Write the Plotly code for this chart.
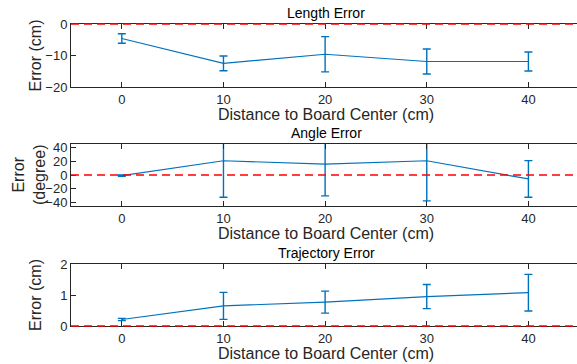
import plotly.graph_objects as go

# Measurement positions (distance to board center, cm)
distance = [0, 10, 20, 30, 40]

# Length error (cm): mean and standard deviation
length_mean = [-4.6, -12.5, -9.6, -11.9, -11.9]
length_std = [1.5, 2.35, 5.6, 3.95, 3.0]

# Angle error (degree)
angle_mean = [-0.8, 20.7, 15.9, 20.7, -5.7]
angle_std = [1.0, 53.0, 46.2, 58.2, 26.5]

# Trajectory error (cm)
traj_mean = [0.21, 0.65, 0.77, 0.95, 1.075]
traj_std = [0.035, 0.435, 0.355, 0.39, 0.59]

panels = [
    ("Length Error", length_mean, length_std, [-20, 0], [-20, -10, 0], ["Error (cm)"]),
    ("Angle Error", angle_mean, angle_std, [-45, 45], [-40, -20, 0, 20, 40], ["Error", "(degree)"]),
    ("Trajectory Error", traj_mean, traj_std, [0, 2], [0, 1, 2], ["Error (cm)"]),
]

W, H = 577, 364
BLUE = "#0072BD"
INK = "#262626"
FONT = "Liberation Sans, Arial, Helvetica, sans-serif"

# pixel extents (top, bottom) of each axes box
boxes = [(24, 87), (144, 206), (264, 326)]
x_left = 71 / W
x_range = [-5, 44.78]

fig = go.Figure()
layout = dict(
    width=W, height=H,
    margin=dict(l=0, r=0, t=0, b=0, autoexpand=False),
    paper_bgcolor="white", plot_bgcolor="white",
    showlegend=False,
    font=dict(family=FONT, color=INK, size=13),
)
shapes, annotations = [], []

for i, (title, mean, std, yr, yticks, ylab) in enumerate(panels):
    n = i + 1
    xa = "x" if n == 1 else f"x{n}"
    ya = "y" if n == 1 else f"y{n}"
    top, bot = boxes[i]
    dom = [1 - bot / H, 1 - top / H]

    fig.add_trace(go.Scatter(
        x=distance, y=mean, xaxis=xa, yaxis=ya, mode="lines",
        line=dict(color=BLUE, width=1.2),
        error_y=dict(type="data", array=std, visible=True,
                     color=BLUE, thickness=1.4, width=4),
        cliponaxis=True,
    ))

    layout[f"xaxis{'' if n == 1 else n}"] = dict(
        domain=[x_left, 1], range=x_range, anchor=ya, automargin=False,
        tickvals=distance, ticks="inside", ticklen=5, tickcolor=INK,
        showline=True, linecolor=INK, linewidth=1, mirror="ticks",
        showgrid=False, zeroline=False,
        tickfont=dict(size=13, color=INK, family=FONT),
    )
    layout[f"yaxis{'' if n == 1 else n}"] = dict(
        domain=dom, range=yr, anchor=xa, automargin=False,
        tickvals=yticks, ticks="inside", ticklen=5, tickcolor=INK,
        showline=True, linecolor=INK, linewidth=1, mirror=False,
        showgrid=False, zeroline=False,
        tickfont=dict(size=13, color=INK, family=FONT),
    )
    # right-hand tick marks (the right spine lies past the figure edge)
    layout[f"yaxis{n + 3}"] = dict(
        domain=dom, range=yr, anchor=xa, overlaying=ya, side="right",
        automargin=False,
        tickvals=yticks, ticks="inside", ticklen=5, tickcolor=INK,
        showticklabels=False, showline=False, showgrid=False, zeroline=False,
    )

    # zero reference line, placed in paper space so it is not clipped
    # when y = 0 falls on the edge of the axes box
    y_zero = dom[0] + (0 - yr[0]) / (yr[1] - yr[0]) * (dom[1] - dom[0])
    shapes.append(dict(
        type="line", xref="paper", yref="paper", x0=x_left, x1=1,
        y0=y_zero, y1=y_zero,
        line=dict(color="#FF0000", width=1.5, dash="8px,5px"), layer="above",
    ))

    xc = (71 + 581) / 2 / W
    annotations.append(dict(
        text=title, xref="paper", yref="paper", x=xc, y=1 - top / H,
        xanchor="center", yanchor="bottom", yshift=1, showarrow=False,
        font=dict(size=14, color="black", family=FONT),
    ))
    annotations.append(dict(
        text="Distance to Board Center (cm)", xref="paper", yref="paper",
        x=xc, y=1 - bot / H, xanchor="center", yanchor="top", yshift=-17,
        showarrow=False, font=dict(size=16, color=INK, family=FONT),
    ))
    annotations.append(dict(
        text="<br>".join(ylab), xref="paper", yref="paper",
        x=(29 if len(ylab) > 1 else 35) / W, y=1 - (top + bot) / 2 / H,
        xanchor="center", yanchor="middle", textangle=-90, showarrow=False,
        font=dict(size=16, color=INK, family=FONT),
    ))

layout["shapes"] = shapes
layout["annotations"] = annotations
fig.update_layout(**layout)
fig.write_html("out.html")
